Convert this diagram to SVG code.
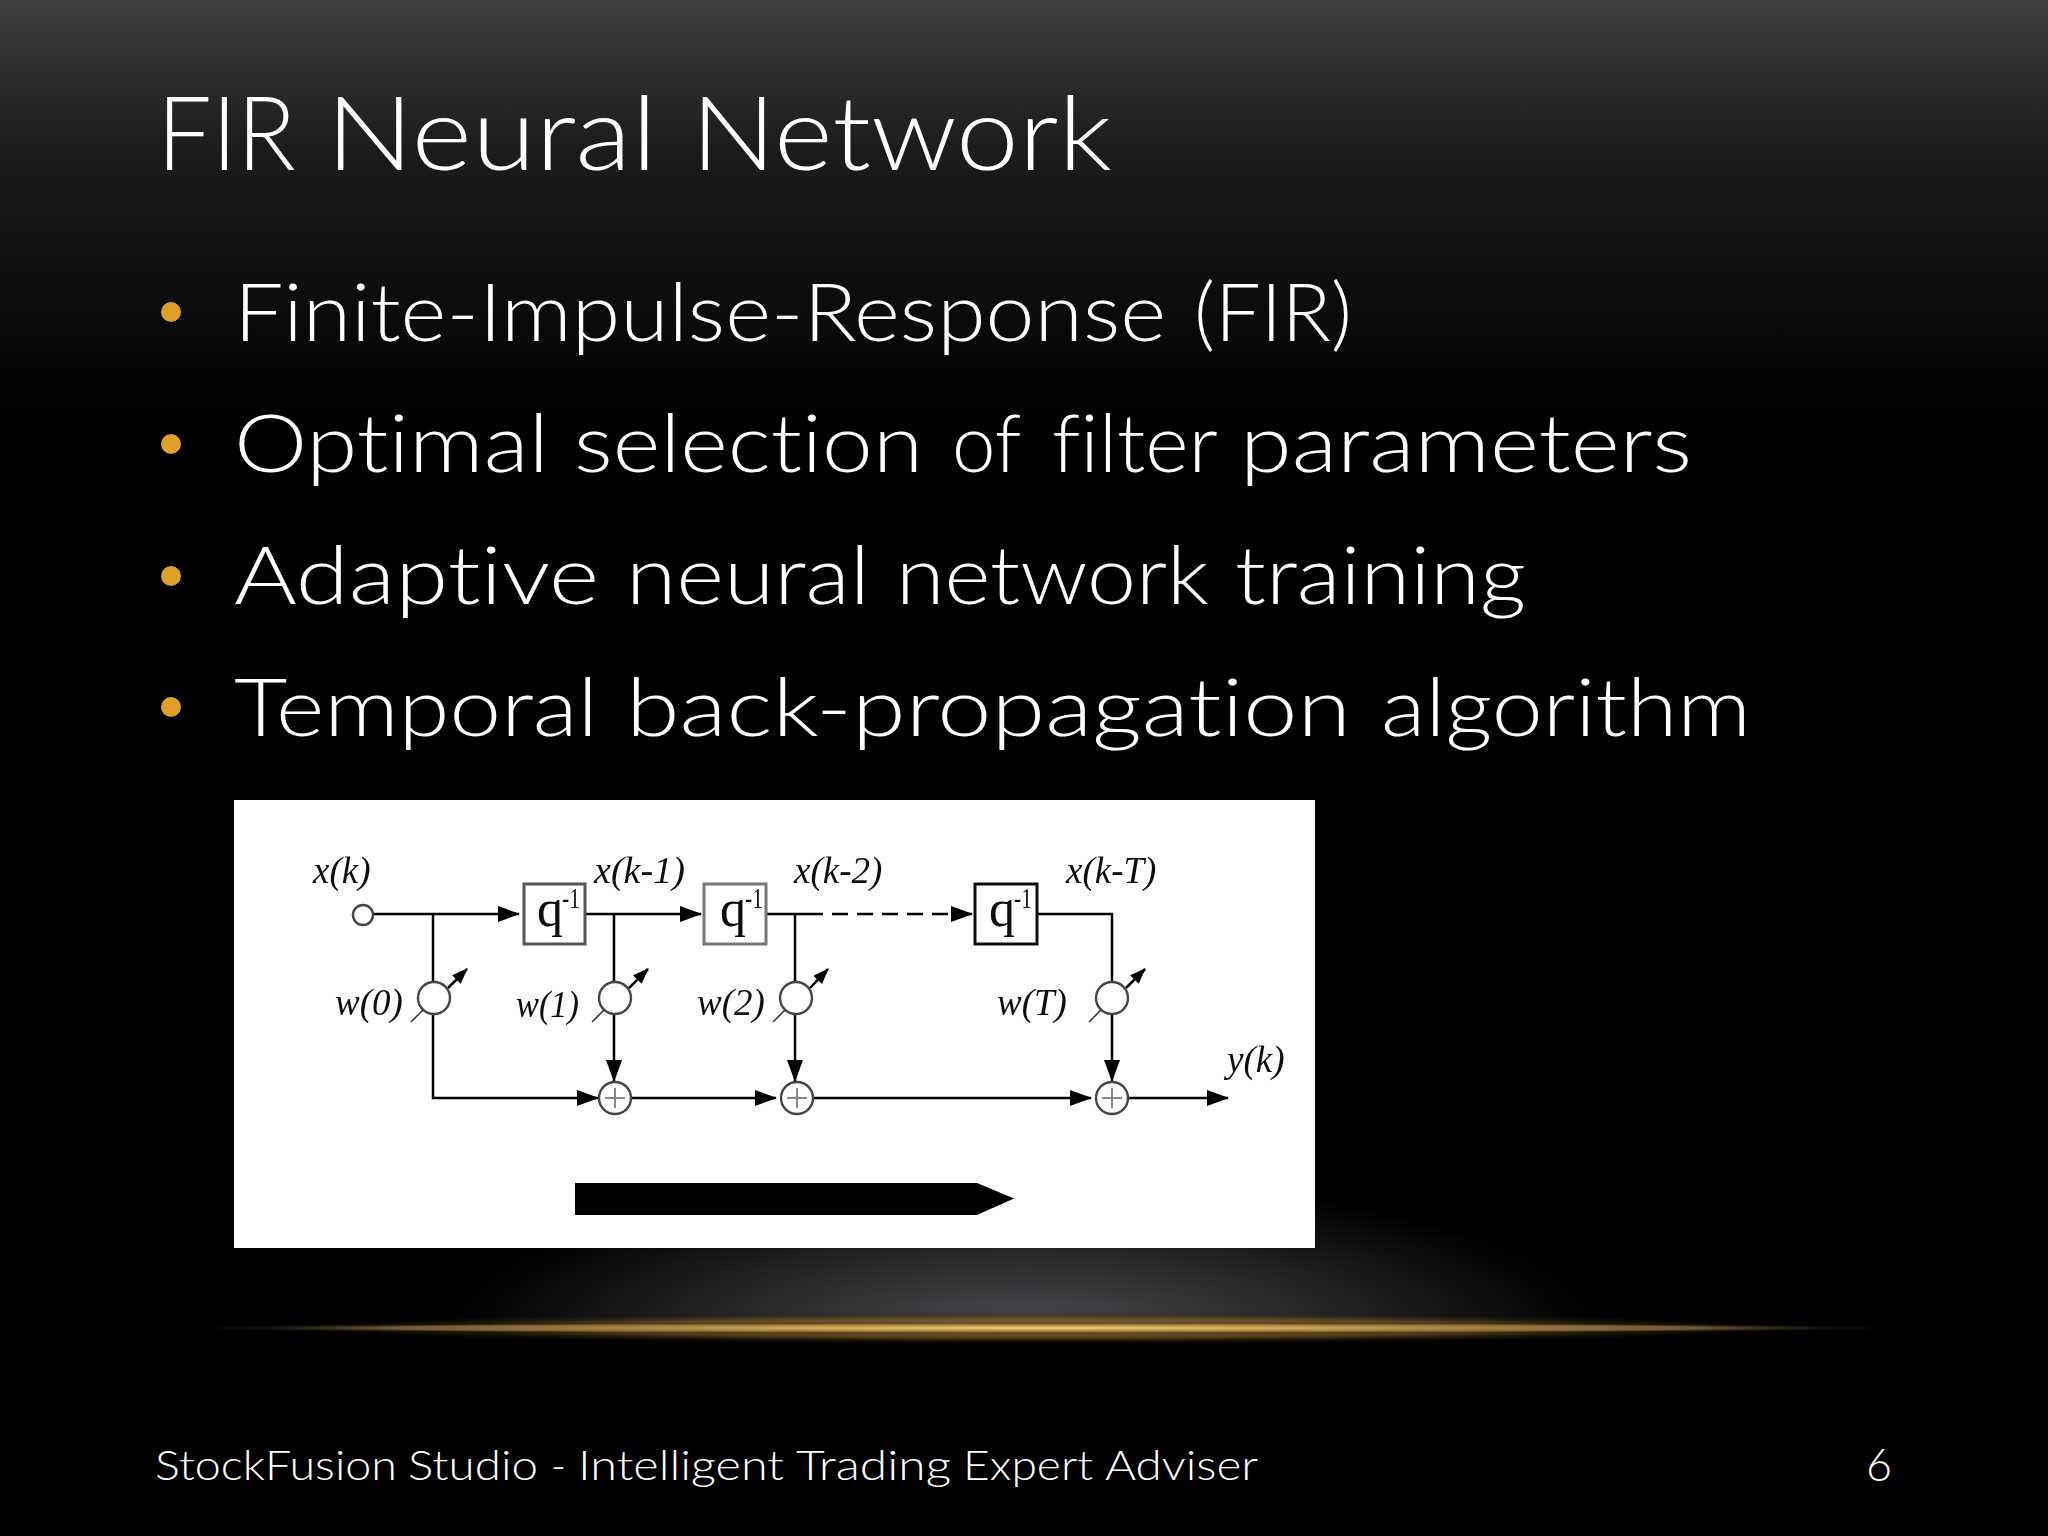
<svg xmlns="http://www.w3.org/2000/svg" width="2048" height="1536" viewBox="0 0 2048 1536">
<style>
.s{font-family:"Lato","Liberation Sans",sans-serif;font-weight:300;fill:#fff;font-variant-ligatures:none}
.t{font-family:"Liberation Serif",serif;font-style:italic;font-size:37px;fill:#111}
.q{font-family:"Liberation Serif",serif;fill:#111;font-size:52px}
.w{fill:none;stroke:#000;stroke-width:2.5}
.box{fill:#fff;stroke:#333;stroke-width:3}
.c{fill:#fff;stroke:#444;stroke-width:2.4}
.b{fill:#DFA02A}
.p{stroke:#888;stroke-width:2;fill:none}
.l{stroke:#333;stroke-width:1.6;fill:none}
</style>
<defs>
<linearGradient id="bg" x1="0" y1="0" x2="0" y2="1"><stop offset="0" stop-color="#3e3e3e"/><stop offset="0.35" stop-color="#1c1c1c"/><stop offset="1" stop-color="#000"/></linearGradient>
<radialGradient id="glow" cx="1024" cy="1328" r="1" gradientUnits="userSpaceOnUse" gradientTransform="translate(1024 1328) scale(570 150) translate(-1024 -1328)"><stop offset="0" stop-color="#4c4c50"/><stop offset="0.55" stop-color="#242426"/><stop offset="1" stop-color="#000"/></radialGradient>
<radialGradient id="gold" cx="1043" cy="1328" r="1" gradientUnits="userSpaceOnUse" gradientTransform="translate(1043 1328) scale(880 6) translate(-1043 -1328)"><stop offset="0" stop-color="#F8D080"/><stop offset="0.35" stop-color="#C49A50"/><stop offset="0.75" stop-color="#705A30"/><stop offset="1" stop-color="#000" stop-opacity="0"/></radialGradient>
<radialGradient id="goldHalo" cx="1043" cy="1328" r="1" gradientUnits="userSpaceOnUse" gradientTransform="translate(1043 1328) scale(800 17) translate(-1043 -1328)"><stop offset="0" stop-color="#B08028" stop-opacity="1"/><stop offset="0.6" stop-color="#6E5020" stop-opacity=".7"/><stop offset="1" stop-color="#000" stop-opacity="0"/></radialGradient>
<filter id="soft" x="0" y="0" width="1" height="1"><feGaussianBlur stdDeviation="0.5"/></filter>
<marker id="a" markerUnits="userSpaceOnUse" markerWidth="22" markerHeight="16" refX="21" refY="8" orient="auto"><path d="M0 0L22 8L0 16Z" fill="#000"/></marker>
<marker id="m" markerUnits="userSpaceOnUse" markerWidth="16" markerHeight="12" refX="15" refY="6" orient="auto"><path d="M0 0L16 6L0 12Z" fill="#000"/></marker>
</defs>
<rect width="2048" height="1536" fill="#000"/>
<rect width="2048" height="420" fill="url(#bg)"/>
<rect x="450" y="1175" width="1150" height="153" fill="url(#glow)"/>
<rect x="240" y="1311" width="1610" height="34" fill="url(#goldHalo)"/>
<rect x="160" y="1322" width="1770" height="12" fill="url(#gold)"/>
<text id="title" class="s" y="170" font-size="102"><tspan x="157" textLength="139" lengthAdjust="spacingAndGlyphs">FIR</tspan> <tspan x="326" textLength="331" lengthAdjust="spacingAndGlyphs">Neural</tspan> <tspan x="691" textLength="421" lengthAdjust="spacingAndGlyphs">Network</tspan></text>
<g id="bullets">
<circle class="b" cx="171" cy="312" r="10"/>
<text class="s" y="341" font-size="80"><tspan x="234" textLength="932" lengthAdjust="spacingAndGlyphs">Finite-Impulse-Response</tspan> <tspan x="1194" textLength="158" lengthAdjust="spacingAndGlyphs">(FIR)</tspan></text>
<circle class="b" cx="171" cy="444" r="10"/>
<text class="s" y="472" font-size="80"><tspan x="234" textLength="315" lengthAdjust="spacingAndGlyphs">Optimal</tspan> <tspan x="574" textLength="349" lengthAdjust="spacingAndGlyphs">selection</tspan> <tspan x="952" textLength="68" lengthAdjust="spacingAndGlyphs">of</tspan> <tspan x="1052" textLength="164" lengthAdjust="spacingAndGlyphs">filter</tspan> <tspan x="1240" textLength="452" lengthAdjust="spacingAndGlyphs">parameters</tspan></text>
<circle class="b" cx="171" cy="576" r="10"/>
<text class="s" y="604" font-size="80"><tspan x="234" textLength="365" lengthAdjust="spacingAndGlyphs">Adaptive</tspan> <tspan x="626" textLength="244" lengthAdjust="spacingAndGlyphs">neural</tspan> <tspan x="896" textLength="313" lengthAdjust="spacingAndGlyphs">network</tspan> <tspan x="1235" textLength="291" lengthAdjust="spacingAndGlyphs">training</tspan></text>
<circle class="b" cx="171" cy="707" r="10"/>
<text class="s" y="736" font-size="80"><tspan x="234" textLength="364" lengthAdjust="spacingAndGlyphs">Temporal</tspan> <tspan x="626" textLength="725" lengthAdjust="spacingAndGlyphs">back-propagation</tspan> <tspan x="1381" textLength="370" lengthAdjust="spacingAndGlyphs">algorithm</tspan></text>
</g>
<rect x="234" y="800" width="1081" height="448" fill="#fff"/>
<g filter="url(#soft)">
<g id="connectors">
<path class="w" d="M373 914H519" marker-end="url(#a)"/>
<path class="w" d="M433 914V982M433 1014V1098H598" marker-end="url(#a)"/>
<path class="w" d="M586 914H701" marker-end="url(#a)"/>
<path class="w" d="M614 914V982M614 1014V1081" marker-end="url(#a)"/>
<path class="w" d="M631 1098H776" marker-end="url(#a)"/>
<path class="w" d="M767 914H807"/>
<path class="w" d="M795 914V982M795 1014V1081" marker-end="url(#a)"/>
<path class="w" d="M807 914H972" stroke-dasharray="16 9" marker-end="url(#a)"/>
<path class="w" d="M813 1098H1091" marker-end="url(#a)"/>
<path class="w" d="M1038 914H1112V982M1112 1014V1081" marker-end="url(#a)"/>
<path class="w" d="M1128 1098H1228" marker-end="url(#a)"/>
</g>
<g id="input"><circle class="c" cx="363" cy="915" r="10"/><text class="t" x="313" y="883">x(k)</text></g>
<g id="delay1"><rect class="box" x="524" y="884" width="61" height="60" style="stroke:#555"/><text class="q" x="537" y="926">q<tspan font-size="30" dy="-18" dx="-1" textLength="18" lengthAdjust="spacingAndGlyphs">-1</tspan></text><text class="t" x="594" y="883" textLength="91" lengthAdjust="spacingAndGlyphs">x(k-1)</text></g>
<g id="delay2"><rect class="box" x="704" y="884" width="62" height="60" style="stroke:#777"/><text class="q" x="720" y="926">q<tspan font-size="30" dy="-18" dx="-1" textLength="18" lengthAdjust="spacingAndGlyphs">-1</tspan></text><text class="t" x="794" y="883">x(k-2)</text></g>
<g id="delay3"><rect class="box" x="975" y="884" width="62" height="60" style="stroke:#111"/><text class="q" x="989" y="926">q<tspan font-size="30" dy="-18" dx="-1" textLength="18" lengthAdjust="spacingAndGlyphs">-1</tspan></text><text class="t" x="1066" y="883">x(k-T)</text></g>
<g id="w0"><circle class="c" cx="434" cy="998" r="16"/><path class="w" d="M448 988L467 969" marker-end="url(#m)"/><path class="l" d="M423 1010L411 1022"/><text class="t" x="335" y="1015">w(0)</text></g>
<g id="w1"><circle class="c" cx="615" cy="998" r="16"/><path class="w" d="M629 988L648 969" marker-end="url(#m)"/><path class="l" d="M604 1010L592 1022"/><text class="t" x="516" y="1017" textLength="63" lengthAdjust="spacingAndGlyphs">w(1)</text></g>
<g id="w2"><circle class="c" cx="796" cy="998" r="16"/><path class="w" d="M810 988L828 969" marker-end="url(#m)"/><path class="l" d="M785 1010L773 1022"/><text class="t" x="697" y="1015">w(2)</text></g>
<g id="wT"><circle class="c" cx="1112" cy="998" r="16"/><path class="w" d="M1126 988L1145 969" marker-end="url(#m)"/><path class="l" d="M1101 1010L1089 1022"/><text class="t" x="997" y="1015">w(T)</text></g>
<g id="sum1"><circle class="c" cx="615" cy="1098" r="16"/><path class="p" d="M605 1098H625M615 1088V1108"/></g>
<g id="sum2"><circle class="c" cx="797" cy="1098" r="16"/><path class="p" d="M787 1098H807M797 1088V1108"/></g>
<g id="sum3"><circle class="c" cx="1112" cy="1098" r="16"/><path class="p" d="M1102 1098H1122M1112 1088V1108"/></g>
<text class="t" x="1227" y="1072">y(k)</text>
<path id="direction" d="M575 1183H977L1014 1198.500L977 1215H575Z" fill="#000"/>
</g>
<text id="footer" class="s" y="1480" font-size="42"><tspan x="155" textLength="242" lengthAdjust="spacingAndGlyphs">StockFusion</tspan> <tspan x="408" textLength="130" lengthAdjust="spacingAndGlyphs">Studio</tspan> <tspan x="551" textLength="15" lengthAdjust="spacingAndGlyphs">-</tspan> <tspan x="578" textLength="206" lengthAdjust="spacingAndGlyphs">Intelligent</tspan> <tspan x="796" textLength="155" lengthAdjust="spacingAndGlyphs">Trading</tspan> <tspan x="963" textLength="130" lengthAdjust="spacingAndGlyphs">Expert</tspan> <tspan x="1105" textLength="153" lengthAdjust="spacingAndGlyphs">Adviser</tspan></text>
<text id="page" class="s" x="1866" y="1481" font-size="46" textLength="26" lengthAdjust="spacingAndGlyphs">6</text>
</svg>
